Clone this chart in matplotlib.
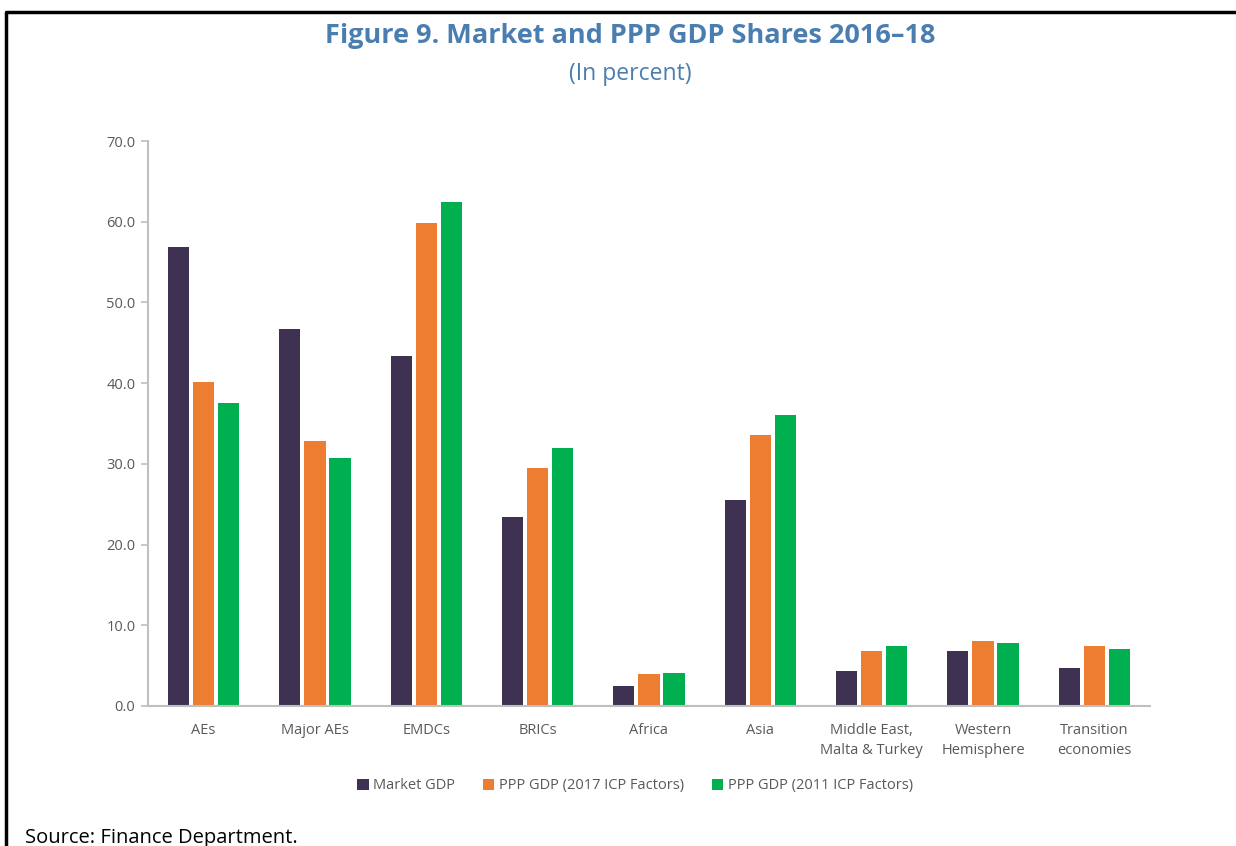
import numpy as np
import matplotlib.pyplot as plt
from matplotlib.lines import Line2D

plt.rcParams['font.family'] = ['Open Sans', 'DejaVu Sans']

# Dati
categories = ['AEs', 'Major AEs', 'EMDCs', 'BRICs', 'Africa', 'Asia',
              'Middle East,\nMalta & Turkey', 'Western\nHemisphere', 'Transition\neconomies']
market_gdp = [56.9, 46.7, 43.4, 23.4, 2.5, 25.5, 4.3, 6.8, 4.7]
ppp_2017 = [40.1, 32.8, 59.9, 29.5, 4.0, 33.6, 6.8, 8.1, 7.4]
ppp_2011 = [37.5, 30.7, 62.5, 32.0, 4.1, 36.1, 7.4, 7.8, 7.1]
series_names = ['Market GDP', 'PPP GDP (2017 ICP Factors)', 'PPP GDP (2011 ICP Factors)']
colors = ['#3F3151', '#ED7D31', '#00B050']
yticks = [0, 10, 20, 30, 40, 50, 60, 70]

fig = plt.figure(figsize=(12.36, 8.46), dpi=100)
ax = fig.add_axes([0.1197, 0.1655, 0.8107, 0.6678])

x = np.arange(len(categories))
width = 0.19
step = 0.225
for i, (vals, name, c) in enumerate(zip([market_gdp, ppp_2017, ppp_2011], series_names, colors)):
    ax.bar(x + (i - 1) * step, vals, width, color=c, label=name)

ax.set_xlim(-0.5, len(categories) - 0.5)
ax.set_ylim(0, 70)
ax.set_yticks(yticks)
ax.set_yticklabels([f'{v:.1f}' for v in yticks])
ax.set_xticks(x)
ax.set_xticklabels(categories, linespacing=1.45)
ax.tick_params(axis='x', length=0, pad=12, labelsize=10.5, labelcolor='#595959')
ax.tick_params(axis='y', length=5, color='#BFBFBF', width=1.2, pad=4, labelsize=10.5, labelcolor='#595959')
for s in ['top', 'right']:
    ax.spines[s].set_visible(False)
for s in ['left', 'bottom']:
    ax.spines[s].set_color('#BFBFBF')
    ax.spines[s].set_linewidth(1.5)

leg = ax.legend(loc='upper center', bbox_to_anchor=(0.486, -0.105), ncol=3, frameon=False,
                fontsize=10.5, handlelength=0.8, handleheight=0.8, columnspacing=1.9,
                handletextpad=0.3)
for t in leg.get_texts():
    t.set_color('#595959')

fig.text(0.51, 0.957, 'Figure 9. Market and PPP GDP Shares 2016\u201318', ha='center', va='center',
         fontsize=19.5, fontweight='bold', color='#4A7EB0')
fig.text(0.51, 0.913, '(In percent)', ha='center', va='center', fontsize=16.5, color='#4A7EB0')
fig.text(0.02, 0.009, 'Source: Finance Department.', ha='left', va='center', fontsize=14.5, color='black')

# cornice (solo sopra e a sinistra)
fig.add_artist(Line2D([0.005, 0.005, 1.0], [0.0, 0.986, 0.986], transform=fig.transFigure,
                      color='black', linewidth=2.5))

fig.savefig('out.png', dpi=100)
